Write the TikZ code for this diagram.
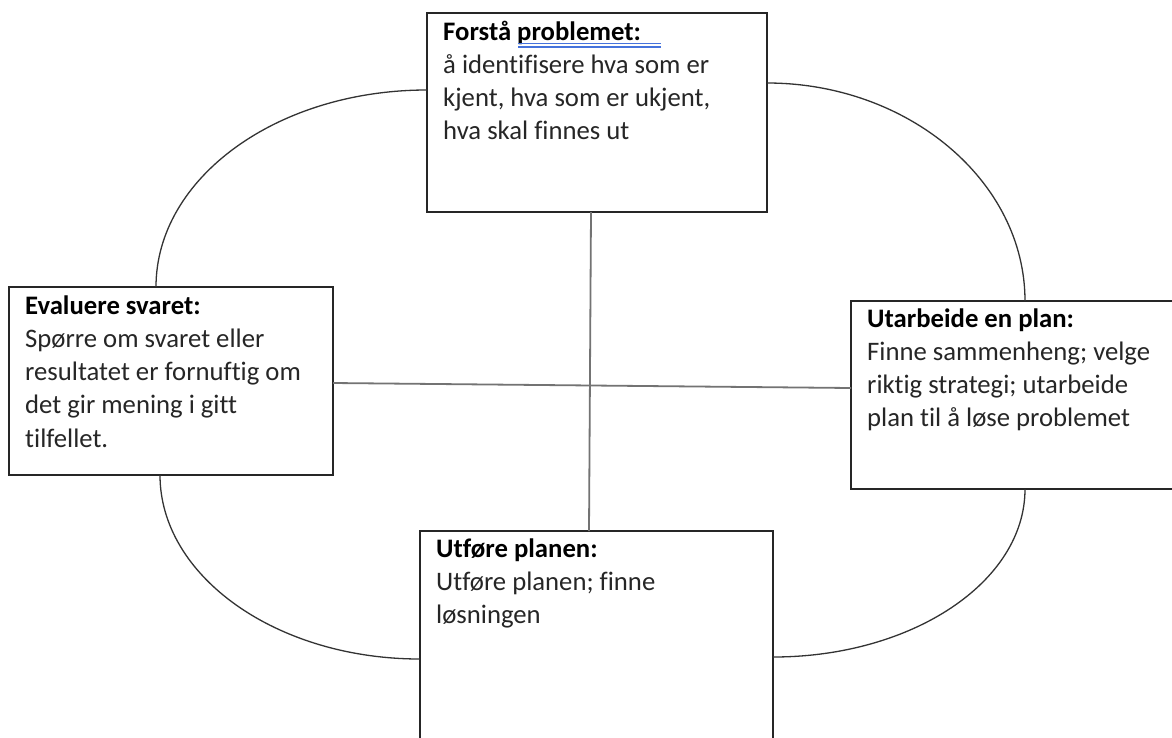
\documentclass[tikz,border=0pt]{standalone}
\usepackage{fontspec}
\setmainfont{Carlito}[Ligatures={NoCommon}]
\usetikzlibrary{calc}
\definecolor{spellblue}{RGB}{70,115,220}
\definecolor{bodytext}{RGB}{38,38,38}
\tikzset{
  box/.style={draw=black!85, line width=1.5pt, inner sep=0pt, outer sep=0pt, anchor=north west, fill=white},
  label/.style={anchor=north west, inner sep=0pt, align=left, text=bodytext,
                font=\fontsize{26.7pt}{33.2pt}\selectfont},
  arcline/.style={draw=black!80, line width=1.3pt},
  crossline/.style={draw=black!55, line width=1.8pt}
}
\newcommand{\firststrut}{\rule{0pt}{22pt}}
\begin{document}
\begin{tikzpicture}[x=1pt,y=-1pt]
\useasboundingbox (0,0) rectangle (1172,737);
\clip (0,0) rectangle (1172,737);
\fill[white] (0,0) rectangle (1172,737);

\node[box, minimum width=340pt, minimum height=199pt] (top) at (427,13) {};
\node[box, minimum width=324pt, minimum height=188pt] (left) at (9,287) {};
\node[box, minimum width=324pt, minimum height=188pt] (right) at (851,301) {};
\node[box, minimum width=353pt, minimum height=240pt] (bottom) at (420,531) {};

\draw[crossline] ($(top.south west)+(164,0)$) -- ($(bottom.north west)+(169,0)$);
\draw[crossline] ($(left.north east)+(0,96)$) -- ($(right.north west)+(0,87)$);

\draw[arcline] ($(top.north west)+(0,77)$) .. controls +(-150,0) and +(0,-109) .. ($(left.north west)+(147,0)$);
\draw[arcline] ($(top.north east)+(0,70)$) .. controls +(141,0) and +(0,-120) .. ($(right.north west)+(174,0)$);
\draw[arcline] ($(left.south west)+(151,0)$) .. controls +(0,101) and +(-144,0) .. ($(bottom.north west)+(0,128)$);
\draw[arcline] ($(right.south west)+(174,0)$) .. controls +(0,93) and +(139,0) .. ($(bottom.north east)+(0,126)$);

\node[label] (toptext) at (443,18) {\firststrut\textbf{\color{black}Forstå problemet:}\\å identifisere hva som er\\kjent, hva som er ukjent,\\hva skal finnes ut};
\node[label] (lefttext) at (25,292) {\firststrut\textbf{\color{black}Evaluere svaret:}\\Spørre om svaret eller\\resultatet er fornuftig om\\det gir mening i gitt\\tilfellet.};
\node[label] (righttext) at (867,305) {\firststrut\textbf{\color{black}Utarbeide en plan:}\\Finne sammenheng; velge\\riktig strategi; utarbeide\\plan til å løse problemet};
\node[label] (bottomtext) at (436,535) {\firststrut\textbf{\color{black}Utføre planen:}\\Utføre planen; finne\\løsningen};

\draw[spellblue, line width=1.1pt] (518,43.5) -- (661,43.5);
\draw[spellblue, line width=1.1pt] (518,47) -- (661,47);
\end{tikzpicture}
\end{document}
